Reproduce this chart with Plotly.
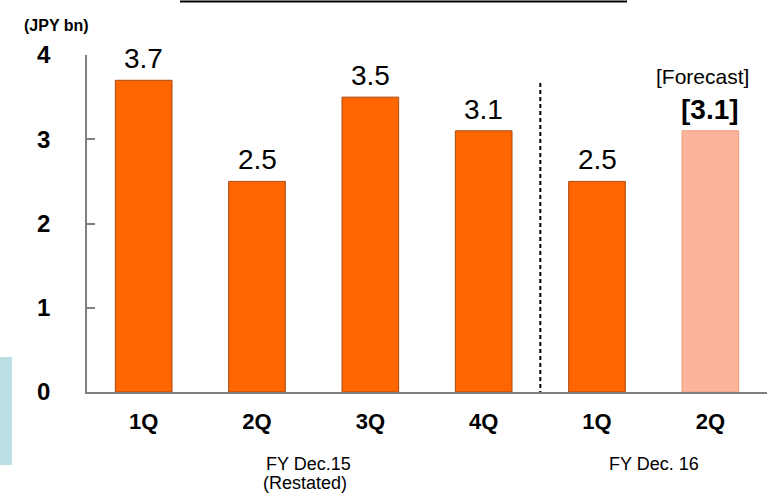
import plotly.graph_objects as go

# ---- data ----
quarters = ["1Q", "2Q", "3Q", "4Q", "1Q", "2Q"]
values = [3.7, 2.5, 3.5, 3.1, 2.5, 3.1]
value_labels = ["3.7", "2.5", "3.5", "3.1", "2.5", "<b>[3.1]</b>"]
is_forecast = [False, False, False, False, False, True]
groups = ["FY Dec.15", "FY Dec. 16"]
group_sub = ["(Restated)", ""]
y_ticks = [0, 1, 2, 3, 4]
unit_label = "(JPY bn)"
forecast_label = "[Forecast]"

W, H = 767, 498
L, R, T, B = 87, 0, 55, 106
FONT = "Arial, Liberation Sans, sans-serif"

x = list(range(len(quarters)))
colors = ["#fdb49d" if f else "#ff6600" for f in is_forecast]
lines = ["#f09a78" if f else "#a84a14" for f in is_forecast]

fig = go.Figure()
fig.add_trace(go.Bar(
    x=x, y=values, width=0.5,
    marker=dict(color=colors, line=dict(color=lines, width=1)),
    hoverinfo="skip", showlegend=False,
))

# value labels
for xi, v, lab, f in zip(x, values, value_labels, is_forecast):
    fig.add_annotation(x=xi, y=v, text=lab, showarrow=False, yanchor="bottom",
                       yshift=4, font=dict(family=FONT, size=28, color="#000000"))
    if f:
        fig.add_annotation(x=xi - 0.07, y=v, text=forecast_label, showarrow=False,
                           yanchor="bottom", yshift=41,
                           font=dict(family=FONT, size=21, color="#000000"))

# group labels
n_first = 4
group_centers = [(n_first - 1) / 2 - 0.05, n_first + (len(x) - n_first - 1) / 2]
for gc, g, s in zip(group_centers, groups, group_sub):
    fig.add_annotation(x=gc, y=0, yref="y", text=g, showarrow=False,
                       yanchor="middle", yshift=-72, borderpad=0,
                       font=dict(family=FONT, size=18, color="#000000"))
    if s:
        fig.add_annotation(x=gc - 0.03, y=0, yref="y", text=s, showarrow=False,
                           yanchor="middle", yshift=-91, borderpad=0,
                           font=dict(family=FONT, size=18, color="#000000"))

# unit label
def px_x(p):
    return (p - L) / (W - L - R)

def px_y(p):
    return (H - B - p) / (H - T - B)

fig.add_annotation(x=px_x(56), y=px_y(25), xref="paper", yref="paper",
                   xanchor="center", yanchor="middle",
                   text="<b>" + unit_label + "</b>", showarrow=False,
                   font=dict(family=FONT, size=16, color="#000000"))

# divider between fiscal years
fig.add_shape(type="line", xref="x", yref="y",
              x0=n_first - 0.5, x1=n_first - 0.5, y0=-0.12, y1=3.67,
              line=dict(color="#000000", width=2, dash="4px,3px"))

# decorations: top rule and left tab
fig.add_shape(type="line", xref="paper", yref="paper",
              x0=px_x(180), x1=px_x(627), y0=px_y(1.5), y1=px_y(1.5),
              line=dict(color="#000000", width=2))
fig.add_shape(type="rect", xref="paper", yref="paper",
              x0=px_x(0), x1=px_x(12), y0=px_y(465), y1=px_y(357),
              line=dict(width=0), fillcolor="#b9dfe2")

fig.update_layout(
    width=W, height=H,
    margin=dict(l=L, r=R, t=T, b=B),
    paper_bgcolor="white", plot_bgcolor="white",
    bargap=0.5,
    xaxis=dict(range=[-0.5, len(x) - 0.5], tickvals=x,
               ticktext=["<b>" + q + "</b>" for q in quarters],
               showline=True, linecolor="#808080", linewidth=1.5,
               ticks="", showgrid=False, zeroline=False,
               tickfont=dict(family=FONT, size=22, color="#000000"),
               ticklabelstandoff=9),
    yaxis=dict(range=[0, 4], tickvals=y_ticks,
               ticktext=["<b>%d</b>" % t for t in y_ticks],
               showline=True, linecolor="#808080", linewidth=1.5,
               ticks="inside", ticklen=8, tickcolor="#808080", tickwidth=1.5,
               showgrid=False, zeroline=False,
               tickfont=dict(family=FONT, size=24, color="#000000"),
               ticklabelstandoff=30),
)

fig.write_html("out.html")
